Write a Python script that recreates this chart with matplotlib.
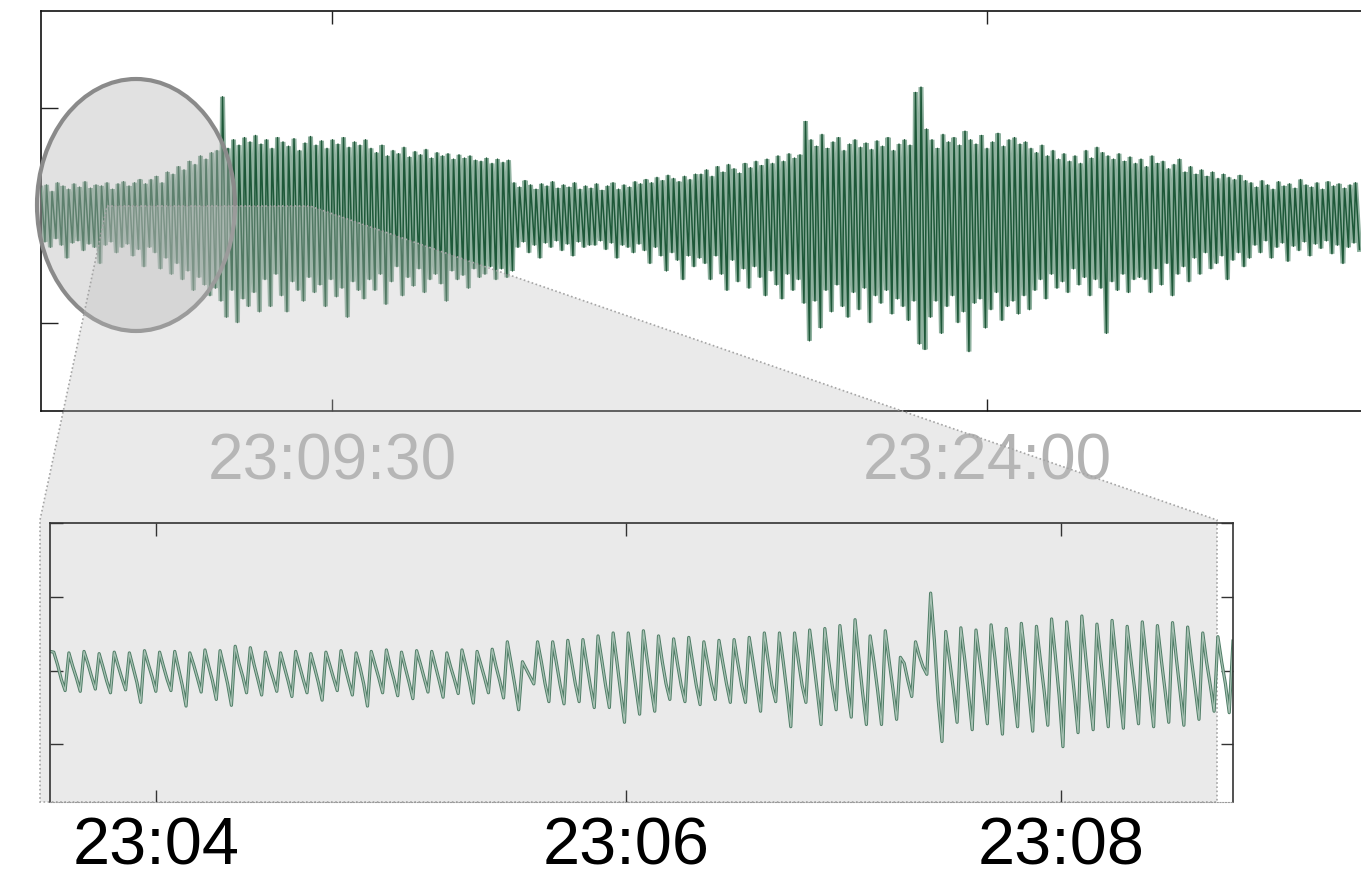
import numpy as np
import matplotlib
matplotlib.use("Agg")
import matplotlib.pyplot as plt
from matplotlib.patches import Ellipse, Polygon
import matplotlib.patheffects as pe

plt.rcParams['font.family'] = ['Liberation Sans', 'DejaVu Sans']

# ---------------- data ----------------
# overview: time in seconds since midnight
top_t_start, top_t_end = 82983.5, 84736.8
top_tick_times = [83370, 84240]          # 23:09:30, 23:24:00
top_tick_labels = ["23:09:30", "23:24:00"]

# successive peaks / troughs of the overview trace (x100)
top_peaks = [
    25, 28, 22, 30, 27, 24, 29, 26, 31, 25, 28, 27, 30, 24, 29, 31, 27, 30, 33, 29,
    33, 36, 30, 40, 38, 45, 42, 50, 47, 55, 52, 58, 60, 110, 62, 70, 65, 72, 68, 74,
    66, 70, 62, 72, 68, 64, 71, 60, 67, 73, 65, 69, 62, 70, 66, 72, 63, 68, 65, 70,
    62, 58, 65, 55, 60, 57, 63, 54, 59, 56, 61, 53, 58, 55, 57, 52, 56, 53, 55, 51,
    50, 53, 48, 52, 49, 51, 30, 26, 32, 28, 24, 29, 27, 31, 25, 28, 26, 30, 24, 27,
    25, 29, 23, 27, 30, 24, 28, 26, 31, 29, 33, 30, 35, 32, 37, 34, 31, 36, 33, 38,
    38, 42, 36, 45, 40, 47, 43, 39, 48, 44, 50, 46, 52, 48, 55, 50, 57, 53, 56, 87,
    70, 64, 75, 62, 68, 72, 60, 66, 70, 63, 67, 61, 69, 64, 72, 60, 66, 70, 65, 114,
    119, 80, 70, 62, 75, 68, 72, 65, 78, 70, 66, 74, 62, 68, 76, 64, 70, 72, 66, 68,
    62, 58, 65, 55, 60, 52, 57, 50, 55, 48, 60, 53, 63, 58, 55, 52, 57, 50, 54, 48,
    52, 45, 55, 48, 50, 43, 47, 52, 40, 45, 38, 42, 36, 40, 34, 38, 35, 33, 37, 32,
    30, 26, 32, 28, 24, 31, 27, 29, 25, 33, 28, 26, 30, 24, 31, 27, 29, 25, 28, 30,
]
top_troughs = [
    -25, -30, -22, -28, -40, -26, -24, -33, -27, -30, -45, -28, -25, -35, -30, -27, -38, -32, -48, -30,
    -35, -50, -40, -55, -45, -60, -52, -70, -58, -65, -75, -68, -80, -95, -70, -100, -78, -85, -72, -90,
    -60, -85, -55, -75, -90, -62, -70, -80, -58, -72, -65, -85, -60, -76, -68, -95, -62, -70, -78, -60,
    -70, -55, -83, -62, -48, -75, -58, -66, -50, -72, -60, -55, -64, -80, -52, -60, -56, -68, -50, -58,
    -55, -48, -60, -50, -58, -52, -30, -25, -35, -28, -40, -26, -30, -24, -33, -27, -38, -25, -30, -28,
    -28, -24, -32, -26, -40, -28, -30, -35, -27, -33, -45, -30, -38, -52, -35, -42, -60, -38, -48, -40,
    -45, -60, -38, -55, -70, -42, -62, -50, -68, -48, -58, -75, -52, -65, -78, -55, -70, -60, -82, -117,
    -80, -105, -70, -90, -65, -85, -95, -72, -88, -68, -100, -75, -82, -70, -92, -78, -85, -98, -80, -120,
    -125, -95, -80, -110, -85, -75, -100, -90, -127, -82, -78, -105, -88, -72, -98, -85, -80, -92, -75, -88,
    -70, -60, -78, -55, -68, -62, -72, -50, -65, -58, -75, -60, -68, -110, -62, -70, -55, -72, -60, -58,
    -60, -72, -50, -65, -45, -75, -55, -48, -62, -40, -55, -35, -50, -45, -38, -60, -42, -35, -48, -40,
    -28, -35, -24, -40, -30, -26, -43, -29, -33, -25, -38, -27, -31, -24, -36, -28, -45, -30, -26, -32,
]

# detail view: one row per breath cycle (peak, shoulder, shoulder, trough), x100
inset_first = 26
inset_cycles = [
    (25, 8, -12, -27), (24, 6, -10, -28), (26, 10, -8, -25), (23, 5, -14, -30),
    (25, 7, -10, -26), (24, 4, -16, -43), (27, 9, -8, -28), (25, 6, -12, -27),
    (26, 3, -20, -48), (24, 8, -10, -29), (28, 6, -14, -39), (27, 5, -18, -47),
    (33, 10, -8, -30), (31, 8, -12, -33), (25, 6, -10, -28), (24, 5, -14, -35),
    (26, 7, -12, -30), (23, 4, -16, -40), (25, 8, -10, -27), (27, 6, -14, -33),
    (24, 5, -18, -48), (26, 8, -10, -30), (28, 7, -12, -34), (25, 4, -16, -38),
    (27, 9, -10, -29), (26, 6, -14, -36), (24, 5, -12, -31), (28, 7, -16, -44),
    (26, 8, -10, -30), (29, 6, -14, -37), (39, 10, -20, -53), (12, 2, -8, -18),
    (39, 12, -18, -42), (39, 10, -20, -45), (41, 12, -18, -42), (42, 10, -22, -50),
    (47, 14, -20, -50), (51, 12, -30, -70), (51, 14, -24, -59), (54, 15, -22, -55),
    (47, 12, -18, -39), (43, 10, -20, -42), (45, 12, -20, -46), (39, 10, -18, -39),
    (41, 11, -18, -43), (42, 10, -20, -43), (45, 12, -22, -55), (51, 14, -20, -42),
    (51, 12, -30, -76), (51, 14, -20, -43), (55, 15, -28, -73), (57, 14, -22, -53),
    (61, 16, -26, -63), (69, 18, -30, -73), (47, 12, -28, -73), (54, 14, -24, -66),
    (18, 10, -14, -35), (39, 20, 5, -5), (105, 40, -40, -96), (53, 15, -25, -70),
    (58, 16, -30, -80), (55, 14, -26, -72), (62, 18, -32, -86), (57, 15, -28, -76),
    (64, 18, -30, -82), (60, 16, -26, -74), (70, 20, -34, -103), (66, 18, -30, -84),
    (74, 20, -32, -80), (63, 16, -28, -76), (68, 18, -30, -78), (60, 15, -26, -72),
    (66, 18, -28, -76), (61, 16, -26, -70), (65, 17, -28, -74), (59, 15, -24, -66),
    (51, 12, -20, -55), (46, 12, -18, -57),
]
inset_last = 40
inset_tick_pos = [28.0, 152.4, 267.5]
inset_tick_labels = ["23:04", "23:06", "23:08"]

# ---------------- build series ----------------
n_cyc = len(top_peaks)
cyc_start = np.linspace(top_t_start, top_t_end, n_cyc + 1)
dt = cyc_start[1] - cyc_start[0]
# fast rise to each peak, slower fall to the trough
top_t = np.ravel(np.column_stack([cyc_start[:-1], cyc_start[:-1] + 0.72 * dt]))
top_y = np.ravel(np.column_stack([top_peaks, top_troughs])) / 100.0

ins_y = np.array([inset_first] + [v for c in inset_cycles for v in c] + [inset_last]) / 100.0
ins_x = np.arange(len(ins_y))

DARK = '#1d5838'
LIGHT = '#8fb19f'

W, H = 1361, 878
fig = plt.figure(figsize=(W / 100, H / 100), dpi=100)


def rect(x0, y0, x1, y1):
    return [x0 / W, 1 - y1 / H, (x1 - x0) / W, (y1 - y0) / H]


def pt(x, y):
    return (x / W, 1 - y / H)


# ---------------- overview axes ----------------
ax = fig.add_axes(rect(41, 12, 1361, 412))
ax.fill_between(top_t, top_y, 0, color=LIGHT, lw=0, zorder=2)
ax.plot(top_t, top_y, color=LIGHT, lw=3.6, zorder=2.5, solid_joinstyle='miter')
ax.plot(top_t, top_y, color=DARK, lw=1.1, zorder=3)
ax.set_xlim(top_t_start, top_t_end)
ax.set_ylim(-1.823, 1.898)
ax.set_xticks(top_tick_times, top_tick_labels)
ax.set_yticks([-1, 0, 1])
ax.tick_params(axis='x', direction='in', top=True, bottom=True, length=9, width=1.0,
               color='#222222', pad=14.5, labelsize=46, labelcolor='#b3b3b3')
ax.tick_params(axis='y', direction='in', left=True, right=False, length=12, width=1.0,
               color='#222222', labelleft=False)
ax.spines['right'].set_visible(False)
for s in ['left', 'top', 'bottom']:
    ax.spines[s].set_linewidth(1.2)
    ax.spines[s].set_color('#111111')

# highlight ellipse
ell = Ellipse(pt(136, 206), 198 / W, 252 / H, transform=fig.transFigure,
              facecolor=(0.72, 0.72, 0.72, 0.42), edgecolor='#8a8a8a', lw=3.0, zorder=0.5)
fig.patches.append(ell)

# zoom connector
conn = Polygon([pt(107, 207), pt(310, 207), pt(1217, 521), pt(1217, 803),
                pt(40, 803), pt(40, 521)], closed=True, transform=fig.transFigure,
               facecolor=(0.75, 0.75, 0.75, 0.32), edgecolor='#a5a5a5', lw=1.2,
               linestyle=(0, (1, 1.5)), zorder=1)
fig.patches.append(conn)

# ---------------- detail axes ----------------
ax2 = fig.add_axes(rect(50, 524, 1233, 803), zorder=2)
ax2.patch.set_alpha(0)
ax2.plot(ins_x, ins_y, color='#a8c2b4', lw=0.9,
         path_effects=[pe.Stroke(linewidth=2.3, foreground='#4f7d66'), pe.Normal()])
ax2.set_xlim(0, len(ins_y) - 1)
ax2.set_ylim(-1.78, 2.0)
ax2.set_xticks(inset_tick_pos, inset_tick_labels)
ax2.set_yticks([-1, 0, 1, 2])
ax2.tick_params(axis='x', direction='in', top=True, bottom=True, length=9, width=1.0,
                color='#333333', pad=10, labelsize=48, labelcolor='black')
ax2.tick_params(axis='y', direction='in', left=True, right=True, length=9, width=1.0,
                color='#333333', labelleft=False)
for s in ['left', 'top', 'right']:
    ax2.spines[s].set_linewidth(1.2)
    ax2.spines[s].set_color('#333333')
ax2.spines['bottom'].set_linestyle((0, (1, 1.5)))
ax2.spines['bottom'].set_color('#9a9a9a')

fig.savefig('out.png', dpi=100)
